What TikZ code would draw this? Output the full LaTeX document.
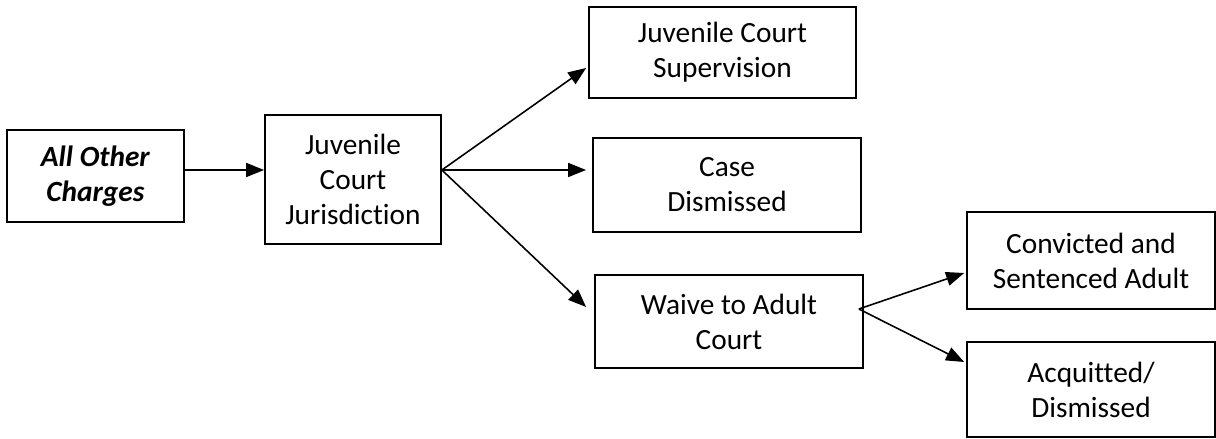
\documentclass[tikz,border=0pt]{standalone}
\usepackage{fontspec}
\setmainfont[Ligatures={NoCommon}]{Carlito}
\usepackage{tikz}
\usetikzlibrary{arrows.meta,positioning}

\tikzset{
  stage/.style={draw, line width=1pt, align=center, inner sep=0pt,
    font=\fontsize{16.7}{20}\selectfont},
  flow/.style={-{Triangle[length=0.36cm,width=0.28cm]}, line width=0.9pt}
}

\begin{document}
\begin{tikzpicture}
	  \useasboundingbox (0,0) rectangle (24.32,-8.78);
	  % Draw the boxes
	  \node[stage, minimum width=3.54cm, minimum height=1.84cm] (others) at (1.91,-3.52)
	      {\textbf{\textit{All Other}}\\\textbf{\textit{Charges}}};
	  \node[stage, minimum width=3.52cm, minimum height=2.58cm] (jurisd) at (7.06,-3.59)
	      {Juvenile\\Court\\Jurisdiction};
	  \node[stage, minimum width=5.34cm, minimum height=1.82cm] (superv) at (14.45,-1.05)
	      {Juvenile Court\\Supervision};
	  \node[stage, minimum width=5.36cm, minimum height=1.88cm] (casedis) at (14.54,-3.70)
	      {Case\\Dismissed};
	  \node[stage, minimum width=5.36cm, minimum height=1.86cm] (waive) at (14.58,-6.43)
	      {Waive to Adult\\Court};
	  \node[stage, minimum width=4.96cm, minimum height=1.94cm] (convict) at (21.82,-5.21)
	      {Convicted and\\Sentenced Adult};
	  \node[stage, minimum width=4.96cm, minimum height=1.90cm] (acquit) at (21.82,-7.79)
	      {Acquitted/\\Dismissed};
	  % Fork points
	  \coordinate (jfork) at ([yshift=0.19cm]jurisd.east);
	  \coordinate (wfork) at ([xshift=-0.1cm,yshift=0.25cm]waive.east);
	  % Draw the arrows
	  \draw[flow] (others.east |- jfork) -- (jurisd.west |- jfork);
	  \draw[flow] (jfork) -- ([xshift=-0.04cm,yshift=-0.31cm]superv.west);
	  \draw[flow] (jfork) -- ([xshift=-0.12cm]casedis.west |- jfork);
	  \draw[flow] (jfork) -- ([xshift=-0.16cm,yshift=0.29cm]waive.west);
	  \draw[flow] (wfork) -- ([xshift=-0.04cm,yshift=-0.25cm]convict.west);
	  \draw[flow] (wfork) -- ([xshift=-0.04cm,yshift=0.55cm]acquit.west);
\end{tikzpicture}
\end{document}
